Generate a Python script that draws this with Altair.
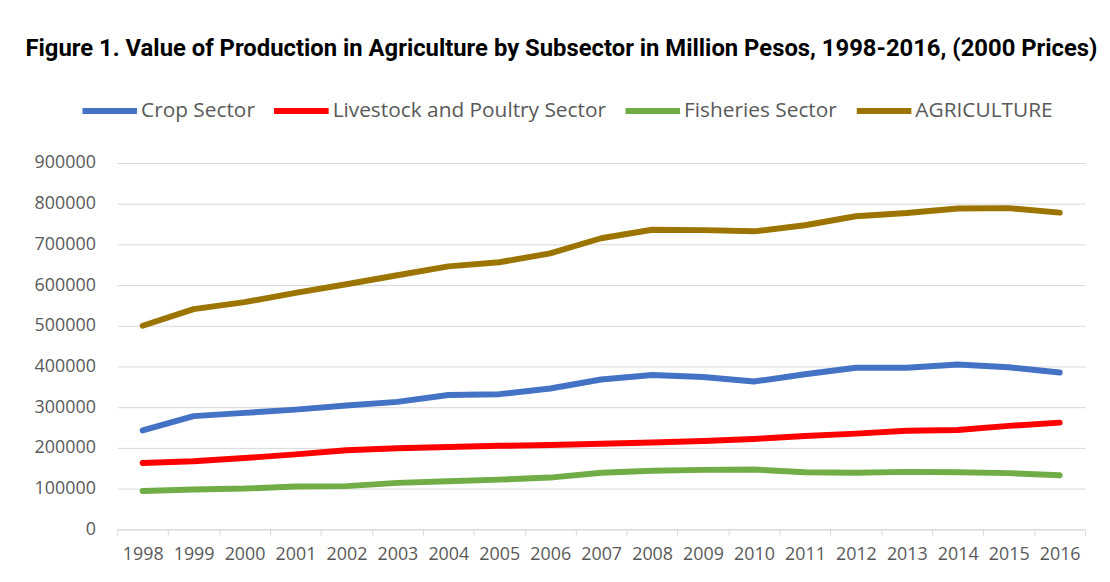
import altair as alt
import pandas as pd

years = [str(y) for y in range(1998, 2017)]
series = ["Crop Sector", "Livestock and Poultry Sector", "Fisheries Sector", "AGRICULTURE"]
colors = ["#4472C4", "#FF0000", "#70AD47", "#9C7500"]

crop = [243000, 278000, 286000, 294000, 304000, 313000, 330000, 332000, 346000, 368000,
        379000, 374000, 363000, 381000, 397000, 397000, 405000, 398000, 385000]
livestock = [163000, 167000, 175000, 184000, 194000, 199000, 202000, 205000, 207000, 210000,
             213000, 217000, 222000, 229000, 235000, 242000, 244000, 254000, 262000]
fisheries = [94000, 98000, 100000, 105000, 106000, 114000, 118000, 122000, 127000, 139000,
             144000, 146000, 147000, 140000, 139000, 141000, 140000, 138000, 133000]
agriculture = [500000, 541000, 558000, 581000, 602000, 624000, 646000, 656000, 678000, 715000,
               736000, 735000, 732000, 747000, 769000, 777000, 788000, 789000, 778000]

rows = []
for name, vals in zip(series, [crop, livestock, fisheries, agriculture]):
    for y, v in zip(years, vals):
        rows.append({"Year": y, "Series": name, "Value": v})
df = pd.DataFrame(rows)

font = "Open Sans"
gray = "#595959"
grid = "#d9d9d9"

chart = alt.Chart(df).mark_line(strokeWidth=6, strokeCap="round", strokeJoin="round").encode(
    x=alt.X("Year:O", title=None,
            scale=alt.Scale(type="band", paddingInner=0, paddingOuter=0),
            axis=alt.Axis(labelAngle=0, tickBand="extent", domainColor=grid, tickColor=grid,
                          tickSize=6, labelPadding=10, labelFont=font, labelFontSize=18,
                          labelColor=gray, grid=False)),
    y=alt.Y("Value:Q", title=None,
            scale=alt.Scale(domain=[0, 900000]),
            axis=alt.Axis(values=list(range(0, 900001, 100000)), format="d", domain=False,
                          ticks=False, grid=True, gridColor=grid, labelPadding=22,
                          labelFont=font, labelFontSize=18, labelColor=gray)),
    color=alt.Color("Series:N", sort=series,
                    scale=alt.Scale(domain=series, range=colors),
                    legend=alt.Legend(title=None, orient="none", direction="horizontal",
                                      legendX=-38, legendY=-83, symbolType="stroke",
                                      symbolSize=3025, symbolStrokeWidth=6,
                                      labelFont=font, labelFontSize=21, labelColor=gray,
                                      labelLimit=400, labelOffset=1, columnPadding=7)),
    detail="Series:N",
).properties(
    width=975, height=369,
    title=alt.Title("Figure 1. Value of Production in Agriculture by Subsector in Million Pesos, 1998-2016, (2000 Prices)",
                    font="Roboto", fontSize=24, fontWeight="bold", color="#000000",
                    anchor="middle", offset=20, dx=-40),
    autosize=alt.AutoSizeParams(type="none"),
    padding={"left": 110, "top": 154, "right": 17, "bottom": 51},
).configure_view(stroke=None)

chart.save("out.html", embed_options={"renderer": "svg", "actions": False})
